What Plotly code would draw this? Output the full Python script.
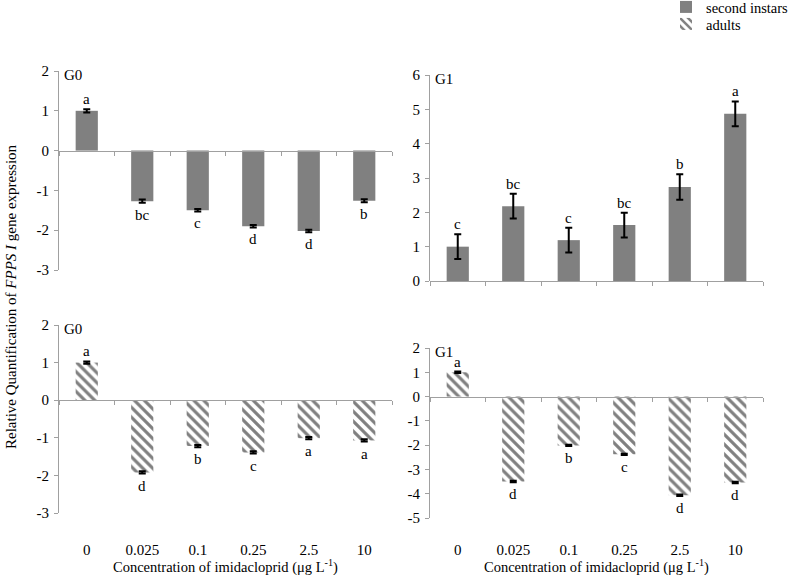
import plotly.graph_objects as go

categories = ["0", "0.025", "0.1", "0.25", "2.5", "10"]

# second instars
g0_instar = [1.00, -1.27, -1.50, -1.90, -2.02, -1.26]
g0_instar_err = [0.04, 0.04, 0.03, 0.03, 0.03, 0.04]
g0_instar_letters = ["a", "bc", "c", "d", "d", "b"]

g1_instar = [1.00, 2.18, 1.19, 1.63, 2.74, 4.87]
g1_instar_err = [0.36, 0.36, 0.36, 0.36, 0.37, 0.36]
g1_instar_letters = ["c", "bc", "c", "bc", "b", "a"]

# adults
g0_adult = [1.00, -1.92, -1.22, -1.39, -1.01, -1.07]
g0_adult_err = [0.03, 0.03, 0.03, 0.03, 0.03, 0.03]
g0_adult_letters = ["a", "d", "b", "c", "a", "a"]

g1_adult = [1.00, -3.50, -2.01, -2.38, -4.06, -3.54]
g1_adult_err = [0.03, 0.03, 0.03, 0.03, 0.03, 0.03]
g1_adult_letters = ["a", "d", "b", "c", "d", "d"]

# y tick labels (hyphen minus as in the original)
yticks_g0 = [-3, -2, -1, 0, 1, 2]
yticks_g0_text = ["-3", "-2", "-1", "0", "1", "2"]
yticks_g1_instar = [0, 1, 2, 3, 4, 5, 6]
yticks_g1_instar_text = ["0", "1", "2", "3", "4", "5", "6"]
yticks_g1_adult = [-5, -4, -3, -2, -1, 0, 1, 2]
yticks_g1_adult_text = ["-5", "-4", "-3", "-2", "-1", "0", "1", "2"]

W, H = 791, 575
FONT = "Liberation Serif"
GREY = "#808080"
AXC = "#a0a0a0"
FS = 15

def px_x(p):
    return p / W

def px_y(p):
    return (H - p) / H

panels = [
    dict(v=g0_instar, e=g0_instar_err, l=g0_instar_letters, xd=(59, 392), yd=(71, 270), yr=(-3, 2),
         tv=yticks_g0, tt=yticks_g0_text, tag="G0", hatch=False, cats=False),
    dict(v=g1_instar, e=g1_instar_err, l=g1_instar_letters, xd=(430, 763), yd=(75, 281), yr=(0, 6),
         tv=yticks_g1_instar, tt=yticks_g1_instar_text, tag="G1", hatch=False, cats=False),
    dict(v=g0_adult, e=g0_adult_err, l=g0_adult_letters, xd=(59, 392), yd=(325, 513), yr=(-3, 2),
         tv=yticks_g0, tt=yticks_g0_text, tag="G0", hatch=True, cats=True),
    dict(v=g1_adult, e=g1_adult_err, l=g1_adult_letters, xd=(430, 763), yd=(348, 518), yr=(-5, 2),
         tv=yticks_g1_adult, tt=yticks_g1_adult_text, tag="G1", hatch=True, cats=True),
]

legend_common = dict(orientation="h", xanchor="left", yanchor="top",
                     font=dict(family=FONT, size=14.5), entrywidth=110, entrywidthmode="pixels",
                     bgcolor="rgba(0,0,0,0)", borderwidth=0)

fig = go.Figure()
layout = dict(
    template="none",
    width=W, height=H,
    margin=dict(l=0, r=0, t=0, b=0, pad=0, autoexpand=False),
    plot_bgcolor="white", paper_bgcolor="white",
    font=dict(family=FONT, size=FS, color="black"),
    bargap=0.6,
    showlegend=True,
    legend=dict(x=px_x(666), y=px_y(-9), **legend_common),
    legend2=dict(x=px_x(666), y=px_y(8), **legend_common),
)
annotations = []
xi = [i for i in range(len(categories))]
boundaries = [i - 0.5 for i in range(len(categories) + 1)]

for k, p in enumerate(panels):
    n = k + 1
    xa = "x" if n == 1 else f"x{n}"
    ya = "y" if n == 1 else f"y{n}"
    ov = f"x{n + 4}"
    xkey = "xaxis" if n == 1 else f"xaxis{n}"
    ykey = "yaxis" if n == 1 else f"yaxis{n}"
    ovkey = f"xaxis{n + 4}"

    yd0, yd1 = px_y(p["yd"][1]), px_y(p["yd"][0])
    y0, y1 = p["yr"]
    zero_pos = yd0 + (0 - y0) / (y1 - y0) * (yd1 - yd0)

    if p["hatch"]:
        marker = dict(color="white", line=dict(width=0),
                      pattern=dict(shape="\\", fgcolor="#808080", bgcolor="white", size=7, solidity=0.45))
        name = "adults"
        leg = "legend2"
    else:
        marker = dict(color=GREY, line=dict(width=0))
        name = "second instars"
        leg = "legend"

    fig.add_trace(go.Bar(
        x=xi, y=p["v"], xaxis=xa, yaxis=ya, marker=marker, name=name,
        showlegend=(k in (0, 2)), legend=leg,
        error_y=dict(type="data", array=p["e"], color="black", thickness=2, width=3.5),
    ))
    # significance letters placed through the data scales
    for i, v in enumerate(p["v"]):
        if v >= 0:
            annotations.append(dict(
                text=p["l"][i], xref=xa, yref=ya, x=xi[i], y=v + p["e"][i],
                xanchor="center", yanchor="bottom", yshift=0, showarrow=False,
                font=dict(family=FONT, size=FS)))
        else:
            annotations.append(dict(
                text=p["l"][i], xref=xa, yref=ya, x=xi[i], y=v - p["e"][i],
                xanchor="center", yanchor="top", yshift=-2, showarrow=False,
                font=dict(family=FONT, size=FS)))
    # dummy trace for overlay zero-line axis
    fig.add_trace(go.Scatter(x=[None], y=[None], xaxis=ov, yaxis=ya,
                             showlegend=False, hoverinfo="skip"))

    xdom = [px_x(p["xd"][0]), px_x(p["xd"][1])]
    layout[xkey] = dict(
        domain=xdom, range=[-0.5, 5.5], anchor="free", position=px_y(539),
        showline=False, showgrid=False, zeroline=False, ticks="", automargin=False,
        tickmode="array", tickvals=xi, ticktext=categories,
        showticklabels=p["cats"], tickfont=dict(family=FONT, size=FS),
        fixedrange=True,
    )
    layout[ovkey] = dict(
        domain=xdom, range=[-0.5, 5.5], overlaying=xa, anchor="free", position=zero_pos,
        showline=True, linecolor=AXC, linewidth=1.2, showgrid=False, zeroline=False,
        ticks="outside", ticklen=4, tickcolor=AXC, tickwidth=1, automargin=False,
        tickmode="array", tickvals=boundaries, showticklabels=False,
    )
    layout[ykey] = dict(
        domain=[yd0, yd1], range=[y0, y1], anchor=xa,
        showline=True, linecolor=AXC, linewidth=1.2, showgrid=False, zeroline=False,
        ticks="outside", ticklen=4, tickcolor=AXC, automargin=False,
        tickmode="array", tickvals=p["tv"], ticktext=p["tt"],
        tickfont=dict(family=FONT, size=FS), ticklabelstandoff=2,
    )
    annotations.append(dict(
        text=p["tag"], xref=f"{xa} domain", yref=f"{ya} domain", x=0.008, y=1.0,
        xanchor="left", yanchor="middle", yshift=-4, showarrow=False,
        font=dict(family=FONT, size=FS)))
    if p["cats"]:
        annotations.append(dict(
            text="Concentration of imidacloprid (μg L<sup>-1</sup>)",
            xref=f"{xa} domain", yref="paper", x=0.5, y=px_y(566),
            xanchor="center", yanchor="middle", showarrow=False,
            font=dict(family=FONT, size=14.5)))

annotations.append(dict(
    text="Relative Quantification of <i>FPPS I</i> gene expression",
    xref="paper", yref="paper", x=px_x(11), y=px_y(297), textangle=-90,
    xanchor="center", yanchor="middle", showarrow=False,
    font=dict(family=FONT, size=FS)))

layout["annotations"] = annotations
fig.update_layout(**layout)
fig.write_html("out.html", config={"displayModeBar": False},
               post_script="document.body.style.margin='0px';")
